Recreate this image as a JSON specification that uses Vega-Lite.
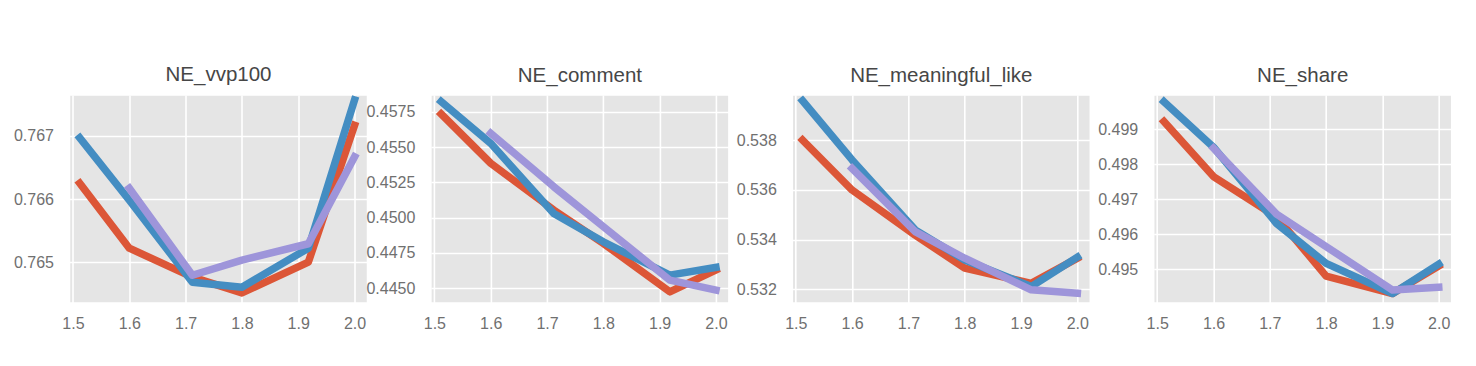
{
  "$schema": "https://vega.github.io/schema/vega-lite/v6.json",
  "background": "white",
  "padding": {"left": 12.5, "top": 64, "right": 5, "bottom": 5},
  "bounds": "flush",
  "spacing": 63.4,
  "config": {
    "view": {"fill": "#E5E5E5", "stroke": "white", "strokeWidth": 1.5},
    "font": "Liberation Sans",
    "axis": {"grid": true, "gridColor": "white", "gridWidth": 1.6, "domain": false, "ticks": false, "labelColor": "#707070", "labelFontSize": 16, "labelPadding": 12, "title": null},
    "axisY": {"labelPadding": 16},
    "title": {"fontSize": 20.5, "fontWeight": "normal", "color": "#464646", "offset": 9, "frame": "group", "anchor": "middle"},
    "line": {"strokeWidth": 7.5, "strokeCap": "square", "strokeJoin": "round", "clip": true}
  },
  "datasets": {
    "d": [
      {"panel": "NE_vvp100", "s": "a", "x": 1.512, "y": 0.76625},
      {"panel": "NE_vvp100", "s": "a", "x": 1.6, "y": 0.76522},
      {"panel": "NE_vvp100", "s": "a", "x": 1.712, "y": 0.76476},
      {"panel": "NE_vvp100", "s": "a", "x": 1.8, "y": 0.76451},
      {"panel": "NE_vvp100", "s": "a", "x": 1.918, "y": 0.765},
      {"panel": "NE_vvp100", "s": "a", "x": 2.0, "y": 0.76717},
      {"panel": "NE_vvp100", "s": "b", "x": 1.512, "y": 0.76697},
      {"panel": "NE_vvp100", "s": "b", "x": 1.6, "y": 0.76598},
      {"panel": "NE_vvp100", "s": "b", "x": 1.712, "y": 0.76468},
      {"panel": "NE_vvp100", "s": "b", "x": 1.8, "y": 0.7646},
      {"panel": "NE_vvp100", "s": "b", "x": 1.918, "y": 0.76522},
      {"panel": "NE_vvp100", "s": "b", "x": 2.0, "y": 0.76757},
      {"panel": "NE_vvp100", "s": "c", "x": 1.6, "y": 0.76617},
      {"panel": "NE_vvp100", "s": "c", "x": 1.712, "y": 0.76479},
      {"panel": "NE_vvp100", "s": "c", "x": 1.8, "y": 0.76503},
      {"panel": "NE_vvp100", "s": "c", "x": 1.918, "y": 0.76529},
      {"panel": "NE_vvp100", "s": "c", "x": 2.0, "y": 0.76667},

      {"panel": "NE_comment", "s": "a", "x": 1.512, "y": 0.45734},
      {"panel": "NE_comment", "s": "a", "x": 1.6, "y": 0.45385},
      {"panel": "NE_comment", "s": "a", "x": 1.712, "y": 0.45054},
      {"panel": "NE_comment", "s": "a", "x": 1.8, "y": 0.44818},
      {"panel": "NE_comment", "s": "a", "x": 1.918, "y": 0.44475},
      {"panel": "NE_comment", "s": "a", "x": 2.0, "y": 0.44629},
      {"panel": "NE_comment", "s": "b", "x": 1.512, "y": 0.45821},
      {"panel": "NE_comment", "s": "b", "x": 1.6, "y": 0.45526},
      {"panel": "NE_comment", "s": "b", "x": 1.712, "y": 0.4503},
      {"panel": "NE_comment", "s": "b", "x": 1.8, "y": 0.44829},
      {"panel": "NE_comment", "s": "b", "x": 1.918, "y": 0.44593},
      {"panel": "NE_comment", "s": "b", "x": 2.0, "y": 0.44648},
      {"panel": "NE_comment", "s": "c", "x": 1.6, "y": 0.45597},
      {"panel": "NE_comment", "s": "c", "x": 1.712, "y": 0.45219},
      {"panel": "NE_comment", "s": "c", "x": 1.8, "y": 0.44936},
      {"panel": "NE_comment", "s": "c", "x": 1.918, "y": 0.44558},
      {"panel": "NE_comment", "s": "c", "x": 2.0, "y": 0.44487},

      {"panel": "NE_meaningful_like", "s": "a", "x": 1.512, "y": 0.538},
      {"panel": "NE_meaningful_like", "s": "a", "x": 1.6, "y": 0.53599},
      {"panel": "NE_meaningful_like", "s": "a", "x": 1.712, "y": 0.53418},
      {"panel": "NE_meaningful_like", "s": "a", "x": 1.8, "y": 0.53285},
      {"panel": "NE_meaningful_like", "s": "a", "x": 1.918, "y": 0.53224},
      {"panel": "NE_meaningful_like", "s": "a", "x": 2.0, "y": 0.53325},
      {"panel": "NE_meaningful_like", "s": "b", "x": 1.512, "y": 0.53958},
      {"panel": "NE_meaningful_like", "s": "b", "x": 1.6, "y": 0.5372},
      {"panel": "NE_meaningful_like", "s": "b", "x": 1.712, "y": 0.53439},
      {"panel": "NE_meaningful_like", "s": "b", "x": 1.8, "y": 0.53318},
      {"panel": "NE_meaningful_like", "s": "b", "x": 1.918, "y": 0.53211},
      {"panel": "NE_meaningful_like", "s": "b", "x": 2.0, "y": 0.53329},
      {"panel": "NE_meaningful_like", "s": "c", "x": 1.6, "y": 0.53686},
      {"panel": "NE_meaningful_like", "s": "c", "x": 1.712, "y": 0.53432},
      {"panel": "NE_meaningful_like", "s": "c", "x": 1.8, "y": 0.53325},
      {"panel": "NE_meaningful_like", "s": "c", "x": 1.918, "y": 0.53198},
      {"panel": "NE_meaningful_like", "s": "c", "x": 2.0, "y": 0.53184},

      {"panel": "NE_share", "s": "a", "x": 1.512, "y": 0.49922},
      {"panel": "NE_share", "s": "a", "x": 1.6, "y": 0.49765},
      {"panel": "NE_share", "s": "a", "x": 1.712, "y": 0.4965},
      {"panel": "NE_share", "s": "a", "x": 1.8, "y": 0.49481},
      {"panel": "NE_share", "s": "a", "x": 1.918, "y": 0.49431},
      {"panel": "NE_share", "s": "a", "x": 2.0, "y": 0.4951},
      {"panel": "NE_share", "s": "b", "x": 1.512, "y": 0.49979},
      {"panel": "NE_share", "s": "b", "x": 1.6, "y": 0.49849},
      {"panel": "NE_share", "s": "b", "x": 1.712, "y": 0.49631},
      {"panel": "NE_share", "s": "b", "x": 1.8, "y": 0.49517},
      {"panel": "NE_share", "s": "b", "x": 1.918, "y": 0.49431},
      {"panel": "NE_share", "s": "b", "x": 2.0, "y": 0.49515},
      {"panel": "NE_share", "s": "c", "x": 1.6, "y": 0.49846},
      {"panel": "NE_share", "s": "c", "x": 1.712, "y": 0.49658},
      {"panel": "NE_share", "s": "c", "x": 1.8, "y": 0.49565},
      {"panel": "NE_share", "s": "c", "x": 1.918, "y": 0.49441},
      {"panel": "NE_share", "s": "c", "x": 2.0, "y": 0.49449}
    ]
  },
  "hconcat": [
    {
      "title": "NE_vvp100",
      "width": 298, "height": 208,
      "data": {"name": "d"},
      "transform": [{"filter": "datum.panel === 'NE_vvp100'"}],
      "mark": "line",
      "encoding": {
        "x": {"field": "x", "type": "quantitative", "scale": {"domain": [1.4938, 2.023], "nice": false, "zero": false}, "axis": {"values": [1.5, 1.6, 1.7, 1.8, 1.9, 2.0], "format": ".1f"}},
        "y": {"field": "y", "type": "quantitative", "scale": {"domain": [0.76435, 0.76765], "nice": false, "zero": false}, "axis": {"values": [0.765, 0.766, 0.767], "format": ".3f"}},
        "color": {"field": "s", "type": "nominal", "scale": {"domain": ["a", "b", "c"], "range": ["#DC5637", "#448DC2", "#9E95DA"]}, "legend": null}
      }
    },
    {
      "title": "NE_comment",
      "width": 298, "height": 208,
      "data": {"name": "d"},
      "transform": [{"filter": "datum.panel === 'NE_comment'"}],
      "mark": "line",
      "encoding": {
        "x": {"field": "x", "type": "quantitative", "scale": {"domain": [1.4938, 2.023], "nice": false, "zero": false}, "axis": {"values": [1.5, 1.6, 1.7, 1.8, 1.9, 2.0], "format": ".1f"}},
        "y": {"field": "y", "type": "quantitative", "scale": {"domain": [0.44396, 0.45868], "nice": false, "zero": false}, "axis": {"values": [0.445, 0.4475, 0.45, 0.4525, 0.455, 0.4575], "format": ".4f"}},
        "color": {"field": "s", "type": "nominal", "scale": {"domain": ["a", "b", "c"], "range": ["#DC5637", "#448DC2", "#9E95DA"]}, "legend": null}
      }
    },
    {
      "title": "NE_meaningful_like",
      "width": 298, "height": 208,
      "data": {"name": "d"},
      "transform": [{"filter": "datum.panel === 'NE_meaningful_like'"}],
      "mark": "line",
      "encoding": {
        "x": {"field": "x", "type": "quantitative", "scale": {"domain": [1.4938, 2.023], "nice": false, "zero": false}, "axis": {"values": [1.5, 1.6, 1.7, 1.8, 1.9, 2.0], "format": ".1f"}},
        "y": {"field": "y", "type": "quantitative", "scale": {"domain": [0.53145, 0.53981], "nice": false, "zero": false}, "axis": {"values": [0.532, 0.534, 0.536, 0.538], "format": ".3f"}},
        "color": {"field": "s", "type": "nominal", "scale": {"domain": ["a", "b", "c"], "range": ["#DC5637", "#448DC2", "#9E95DA"]}, "legend": null}
      }
    },
    {
      "title": "NE_share",
      "width": 298, "height": 208,
      "data": {"name": "d"},
      "transform": [{"filter": "datum.panel === 'NE_share'"}],
      "mark": "line",
      "encoding": {
        "x": {"field": "x", "type": "quantitative", "scale": {"domain": [1.4938, 2.023], "nice": false, "zero": false}, "axis": {"values": [1.5, 1.6, 1.7, 1.8, 1.9, 2.0], "format": ".1f"}},
        "y": {"field": "y", "type": "quantitative", "scale": {"domain": [0.49404, 0.49998], "nice": false, "zero": false}, "axis": {"values": [0.495, 0.496, 0.497, 0.498, 0.499], "format": ".3f"}},
        "color": {"field": "s", "type": "nominal", "scale": {"domain": ["a", "b", "c"], "range": ["#DC5637", "#448DC2", "#9E95DA"]}, "legend": null}
      }
    }
  ],
  "resolve": {"scale": {"y": "independent", "x": "independent", "color": "shared"}}
}
